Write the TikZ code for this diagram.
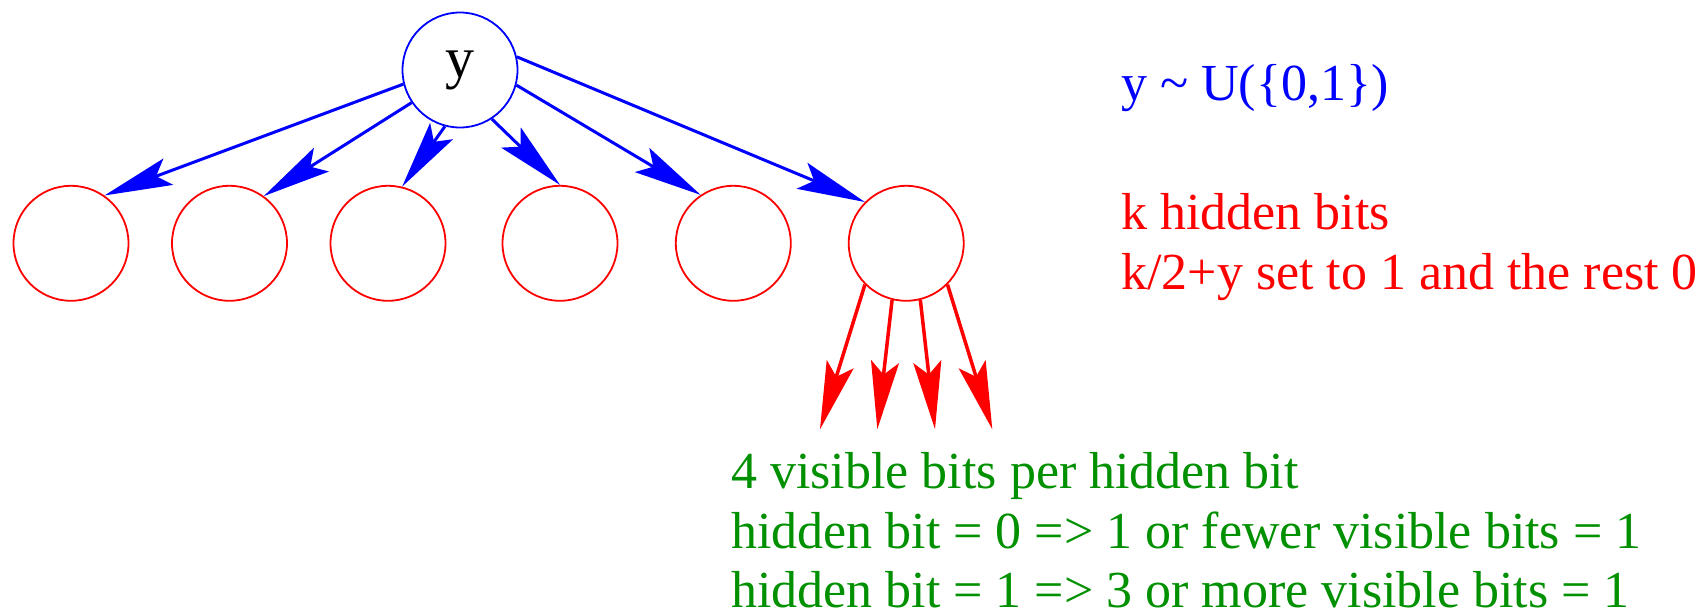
\documentclass[tikz,border=0pt]{standalone}
\usepackage{fontspec}
\setmainfont{Liberation Serif}
\usetikzlibrary{arrows.meta}
\definecolor{fgreen}{RGB}{0,144,0}
\begin{document}
\begin{tikzpicture}[x=1pt,y=-1pt,
  hidnode/.style={circle,draw=red,line width=1.8pt,minimum size=115pt,inner sep=0pt},
  ynode/.style={circle,draw=blue,line width=1.8pt,minimum size=115pt,inner sep=0pt,
    font=\fontsize{58}{64}\selectfont},
  barrow/.style={draw=blue,line width=3pt,-{Stealth[length=68pt,width=28pt,inset=13pt]}},
  rarrow/.style={draw=red,line width=3.5pt,-{Stealth[length=68pt,width=28pt,inset=13pt]}},
  txt/.style={anchor=base west,inner sep=0pt,font=\fontsize{52}{60}\selectfont}
]
\useasboundingbox (0,0) rectangle (1704,613);

\node[ynode] (y) at (460,70) {\raisebox{-8pt}{y}};

\node[hidnode] (h1) at (71,243.3) {};
\node[hidnode] (h2) at (229.5,243.3) {};
\node[hidnode] (h3) at (388,243.3) {};
\node[hidnode] (h4) at (560,243.3) {};
\node[hidnode] (h5) at (733.3,243.3) {};
\node[hidnode] (h6) at (906.2,243.3) {};

\draw[barrow] (y.194) -- (h1.55);
\draw[barrow] (y.214) -- (h2.54);
\draw[barrow] (y.255) -- (h3.76);
\draw[barrow] (y.303) -- (h4.90);
\draw[barrow] (y.345) -- (h5.124);
\draw[barrow] (y.13) -- (h6.135);

\coordinate (v1) at (820,429.3);
\coordinate (v2) at (877.3,429.3);
\coordinate (v3) at (935,429.3);
\coordinate (v4) at (992.3,429.3);

\draw[rarrow] (h6.225) -- (v1);
\draw[rarrow] (h6.256) -- (v2);
\draw[rarrow] (h6.284) -- (v3);
\draw[rarrow] (h6.315) -- (v4);

\node[txt,text=blue] (dist) at (1121,100) {y \textasciitilde{} U(\{0,1\})};
\node[txt,text=red] (r1) at (1121,229) {k hidden bits};
\node[txt,text=red] (r2) at (1121,289.3) {k/2+y set to 1 and the rest 0};
\node[txt,text=fgreen] (g1) at (731,488.3) {4 visible bits per hidden bit};
\node[txt,text=fgreen] (g2) at (731,548) {hidden bit = 0 => 1 or fewer visible bits = 1};
\node[txt,text=fgreen] (g3) at (731,607) {hidden bit = 1 => 3 or more visible bits = 1};
\end{tikzpicture}
\end{document}
